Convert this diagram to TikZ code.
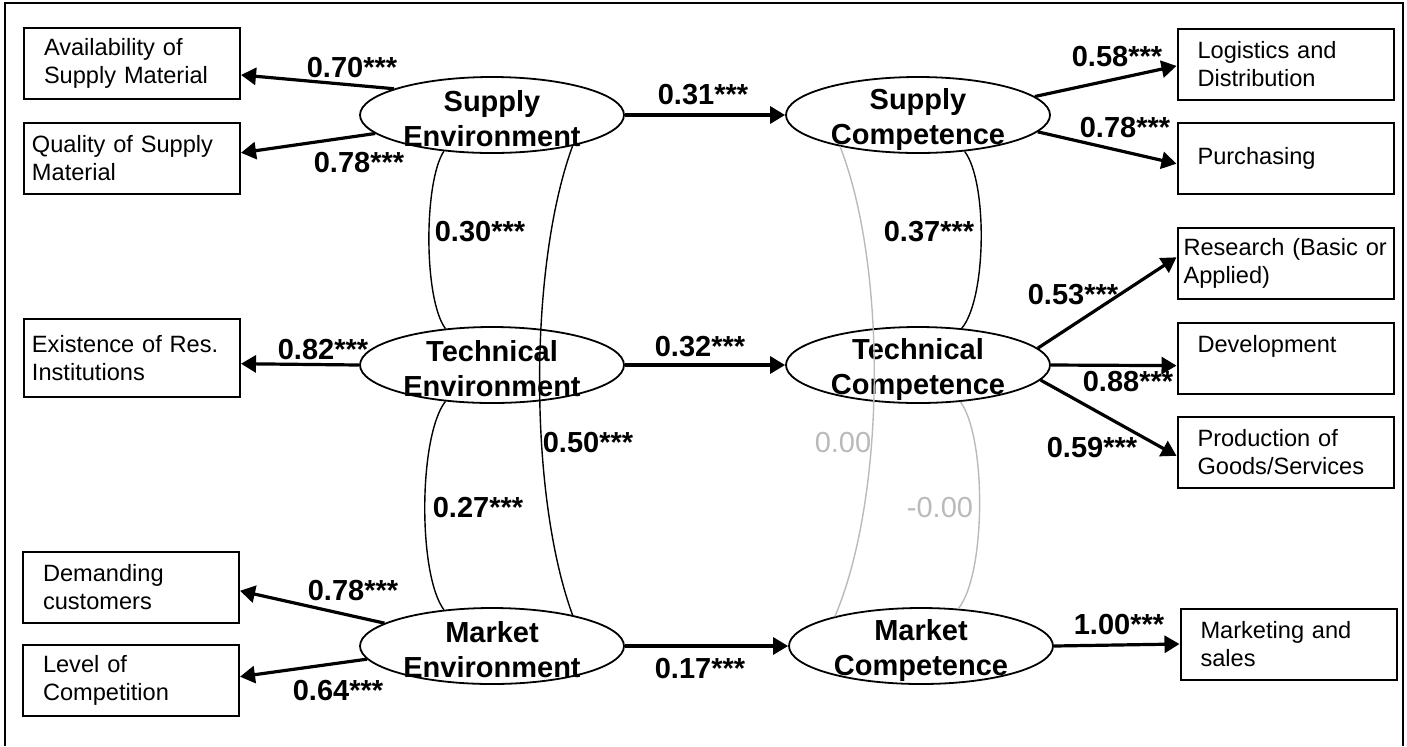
\documentclass[tikz,border=0pt]{standalone}
\usepackage{fontspec}
\setmainfont{Liberation Sans}
\usetikzlibrary{arrows.meta,shapes.geometric}

\begin{document}
\begin{tikzpicture}[x=0.5pt, y=-0.5pt,
     >={Triangle[length=7.5pt,width=8.5pt]},
     obs/.style = {draw, line width=1pt, minimum width=108pt,
     minimum height=35.5pt, text width=88pt, inner xsep=10pt,
     inner ysep=0pt, align=left, font=\fontsize{11.8}{14}\selectfont},
     tight/.style = {inner xsep=4pt, text width=100pt},
     latent/.style = {draw, ellipse, line width=0.9pt,
     minimum width=132pt, minimum height=38pt, inner sep=0pt},
     lattext/.style = {align=center, inner sep=0pt, yshift=-2pt,
     font=\bfseries\fontsize{14.5}{17.5}\selectfont},
     load/.style = {->, line width=1.6pt},
     corr/.style = {line width=0.7pt},
     faint/.style = {black!27},
     coef/.style = {inner sep=0pt, font=\bfseries\fontsize{14.5}{17}\selectfont},
     zero/.style = {inner sep=0pt, text=black!27, font=\fontsize{14.5}{17}\selectfont}]
        \useasboundingbox (0,0) rectangle (1407,746);
        \draw [line width=1pt] (5,746) |- (1403,3) -- (1403,746);

        \node [obs] at (132,63.5) (avail) {Availability of\\Supply Material};
        \node [obs, tight] at (132,158.5) (quality) {Quality of Supply\\Material};
        \node [obs, tight, minimum height=39pt] 
            at (132,358) (exist) {Existence of Res.\\Institutions};
        \node [obs] at (131,587) (demand) {Demanding\\customers};
        \node [obs] at (131,680.5) (level) {Level of\\Competition};

        \node [obs] at (1285.5,64) (logist) {Logistics and\\Distribution};
        \node [obs] at (1285.5,158) (purch) {Purchasing};
        \node [obs, inner xsep=3pt, text width=102pt] 
            at (1285.5,263) (research) {Research (Basic or\\Applied)};
        \node [obs] at (1285.5,358) (develop) {Development\\\mbox{}};
        \node [obs] at (1285.5,452) (prod) {Production of\\Goods/Services};
        \node [obs] at (1288.5,644) (market) {Marketing and\\sales};

        \node [latent] at (492,115) (se) {};
        \node [latent] at (918,115) (sc) {};
        \node [latent] at (492,365) (te) {};
        \node [latent] at (918,365) (tc) {};
        \node [latent] at (492,646) (me) {};
        \node [latent] at (921,646) (mc) {};
        \node [lattext] at (se) (se-t) {Supply\\Environment};
        \node [lattext] at (sc) (sc-t) {Supply\\Competence};
        \node [lattext] at (te) (te-t) {Technical\\Environment};
        \node [lattext] at (tc) (tc-t) {Technical\\Competence};
        \node [lattext] at (me) (me-t) {Market\\Environment};
        \node [lattext] at (mc) (mc-t) {Market\\Competence};

        \draw [load] (se.165) -- (avail.-6.6);
        \draw [load] (se.189) -- (quality.3);
        \draw [load] (te.west) -- (exist.-3);
        \draw [load] (me.168) -- (demand.-2.6);
        \draw [load] (me.186) -- (level.2);
        \draw [load] (se.east) -- (sc.west);
        \draw [load] (te.east) -- (tc.west);
        \draw [load] (me.east) -- (mc.west);
        \draw [load] (sc.9) -- (logist.181);
        \draw [load] (sc.-8) -- (purch.183);
        \draw [load] (tc.8) -- (research.177);
        \draw [load] (tc.east) -- (develop.184);
        \draw [load] (tc.-7.5) -- (prod.182);
        \draw [load] (mc.east) -- (market.west);

        \draw [corr] (se.-143) .. controls +(-20,30) and +(-22,-30) .. (te.142);
        \draw [corr] (se.-21) .. controls +(-44,120) and +(-44,-120) .. (me.21);
        \draw [corr] (te.-142) .. controls +(-27,35) and +(-26,-35) .. (me.143);
        \draw [corr] (sc.-38) .. controls +(23,30) and +(25,-30) .. (tc.40);
        \draw [corr, faint] (sc.-158) .. controls +(47,120) and +(51,-120) .. (mc.161);
        \draw [corr, faint] (tc.-41) .. controls +(26,35) and +(28,-35) .. (mc.45);

        \node [coef] at (352,68) (c-avail) {0.70***};
        \node [coef] at (359,163) (c-quality) {0.78***};
        \node [coef] at (323,350) (c-exist) {0.82***};
        \node [coef] at (353,590) (c-demand) {0.78***};
        \node [coef] at (338,690) (c-level) {0.64***};
        \node [coef] at (703,95) (c-supply) {0.31***};
        \node [coef] at (700,347) (c-tech) {0.32***};
        \node [coef] at (700,668) (c-market) {0.17***};
        \node [coef] at (1117,57) (c-logist) {0.58***};
        \node [coef] at (1125,128) (c-purch) {0.78***};
        \node [coef] at (1073,295) (c-research) {0.53***};
        \node [coef] at (1128,382) (c-develop) {0.88***};
        \node [coef] at (1092,448) (c-prod) {0.59***};
        \node [coef] at (1119,625) (c-sales) {1.00***};
        \node [coef] at (480,232) (r-se-te) {0.30***};
        \node [coef] at (588,443) (r-se-me) {0.50***};
        \node [coef] at (478,508) (r-te-me) {0.27***};
        \node [coef] at (929,232) (r-sc-tc) {0.37***};
        \node [zero] at (843,443) (r-sc-mc) {0.00};
        \node [zero] at (940,508) (r-tc-mc) {-0.00};
\end{tikzpicture}
\end{document}
